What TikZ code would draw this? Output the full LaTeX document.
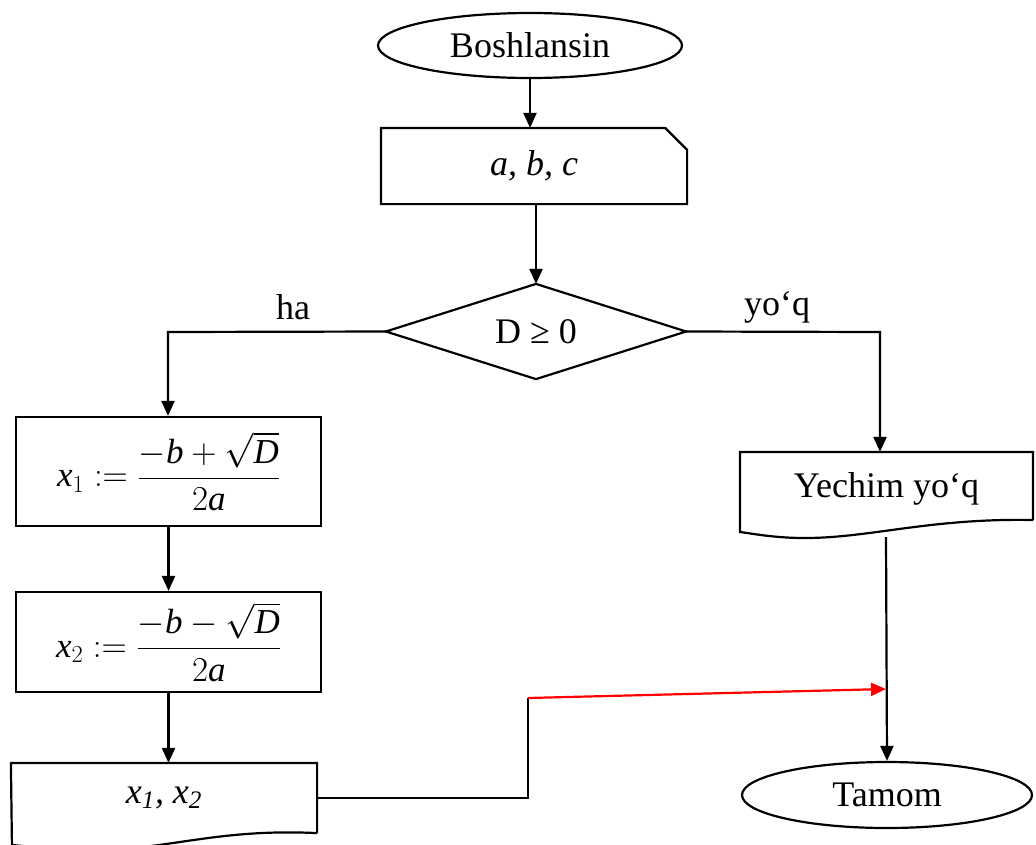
\RequirePackage{fix-cm}
\documentclass[tikz,border=0pt]{standalone}
\usepackage{fontspec}
\setmainfont{Liberation Serif}
\usetikzlibrary{arrows.meta,shapes.geometric}
\begin{document}
\begin{tikzpicture}[x=1pt,y=-1pt,
  line width=2.2pt,
  every node/.style={font=\fontsize{36}{42}\selectfont},
  arr/.style={-{Triangle[length=15pt,width=13pt]}},
  term/.style={ellipse,draw,inner sep=0pt},
  box/.style={draw=none,inner sep=0pt},
  proc/.style={rectangle,draw,inner sep=0pt},
  formula/.style={font=\fontsize{35}{42}\selectfont},
  redline/.style={draw=red}]
\useasboundingbox (0,0) rectangle (1036,844);
\clip (0,0) rectangle (1036,844);

% start
\node[term, minimum width=304pt, minimum height=65pt] (start) at (530,45.5) {Boshlansin};

% input (card shape)
\node[box, minimum width=304pt, minimum height=74pt] (in) at (534,166) {\textit{a, b, c}};
\draw (in.south west) -- (in.north west) -- ([xshift=-22pt]in.north east)
      -- ([yshift=-22pt]in.north east) -- (in.south east) -- cycle;

% decision
\node[box, minimum width=298pt, minimum height=93pt] (dec) at (536,331.5) {D ≥ 0};
\draw (dec.north) -- (dec.east) -- (dec.south) -- (dec.west) -- cycle;

% process boxes
\node[proc, formula, minimum width=305pt, minimum height=109pt] (p1) at (168.5,471.5)
  {$\displaystyle\textit{x}_{1} := \frac{-\textit{b}+\sqrt{\textit{D}}}{2\textit{a}}$};
\node[proc, formula, minimum width=305pt, minimum height=100pt] (p2) at (168.5,642)
  {$\displaystyle\textit{x}_{2} := \frac{-\textit{b}-\sqrt{\textit{D}}}{2\textit{a}}$};

% output document (left)
\node[box, minimum width=304pt, minimum height=68pt] (out) at (164,798)
  {\textit{x\textsubscript{1}, x\textsubscript{2}}};
\draw (out.south east) -- (out.north east) -- (out.north west) -- (12,850)
  (out.south east) .. controls (213,828) and (163,852) .. (83,850)
  .. controls (53,849) and (33,847) .. (12,845);

% output document (right)
\node[box, minimum width=293pt, minimum height=72pt] (yech) at (886.5,489) {Yechim yo‘q};
\draw (1033,520) -- (1033,452) -- (740,452) -- (740,532)
  .. controls (755,534) and (775,538) .. (805,538)
  .. controls (870,538) and (930,518) .. (1033,520);

% end
\node[term, minimum width=290pt, minimum height=66pt] (end) at (887,795) {Tamom};

% labels
\node (lha) at (293,307) {ha};
\node (lyoq) at (777,307) {yo‘q};

% coordinates
\coordinate (lc) at (168,332);
\coordinate (rc) at (880,332);
\coordinate (yb) at (886,537);
\coordinate (bend) at (528,698);
\coordinate (redend) at (886,689);

% connectors
\draw[arr] (start.south) -- (start.south |- in.north);
\draw[arr] (in.south -| dec.north) -- (dec.north);
\draw[arr] (dec.west) -- (lc) -- (lc |- p1.north);
\draw[arr] (dec.east) -- (rc) -- (rc |- yech.north);
\draw[arr] (p1.south) -- (p2.north);
\draw[arr] (p2.south) -- (p2.south |- out.north);
\draw[arr] (yb) -- (end.north);
\draw (out.east) -| (bend);
\draw[redline, arr] (bend) -- (redend);
\end{tikzpicture}
\end{document}
